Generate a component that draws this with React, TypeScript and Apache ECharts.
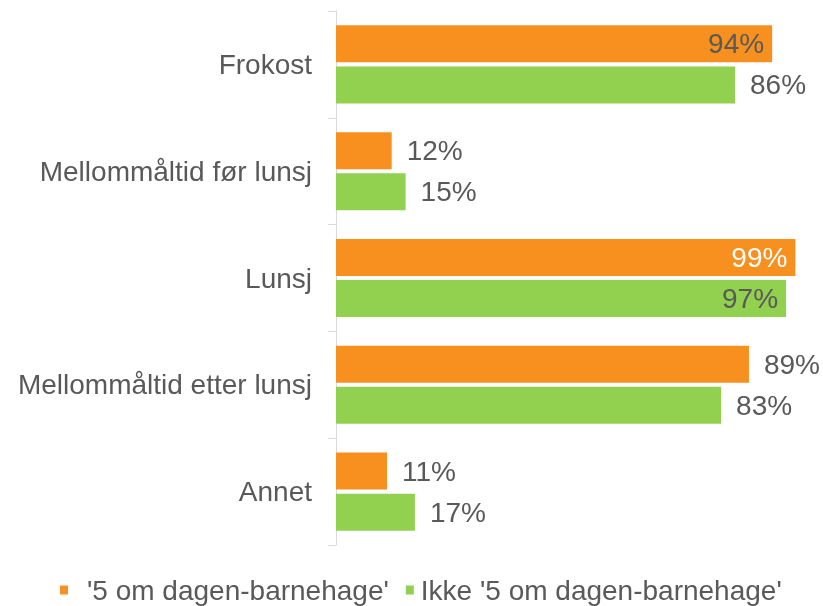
import React, { useEffect, useRef } from "react";
import * as echarts from "echarts";

const categories = ["Frokost", "Mellommåltid før lunsj", "Lunsj", "Mellommåltid etter lunsj", "Annet"];
const seriesNames = ["'5 om dagen-barnehage'", "Ikke '5 om dagen-barnehage'"];
const fiveADay = [94, 12, 99, 89, 11];
const notFiveADay = [86, 15, 97, 83, 17];
const insideOrange = [true, false, true, false, false];
const insideGreen = [false, false, true, false, false];
const insideColorOrange = ["#595959", "#595959", "#FFFFFF", "#595959", "#595959"];

const FONT = "'Liberation Sans', Arial, sans-serif";
const TEXT = "#595959";
const FS = 28;

function makeData(values: number[], inside: boolean[], colors?: string[]) {
  return values.map((v, i) => ({
    value: v,
    label: inside[i]
      ? { position: "insideRight", distance: 8, color: colors ? colors[i] : TEXT }
      : { position: "right", distance: 15, color: TEXT },
  }));
}

export default function App() {
  const ref = useRef<HTMLDivElement>(null);
  useEffect(() => {
    document.body.style.margin = "0";
    document.body.style.overflow = "hidden";
    if (!ref.current) return;
    const chart = echarts.init(ref.current, undefined, { renderer: "svg" });
    chart.setOption({
      animation: false,
      textStyle: { fontFamily: FONT },
      grid: { left: 336, right: 23, top: 11, bottom: 61, containLabel: false },
      legend: {
        left: 60,
        top: 576,
        padding: 0,
        itemWidth: 8,
        itemHeight: 9,
        itemGap: 17,
        icon: "rect",
        textStyle: { fontSize: FS, color: TEXT, fontFamily: FONT },
        data: [
          { name: seriesNames[0], textStyle: { padding: [0, 0, 0, 14] } },
          { name: seriesNames[1], textStyle: { padding: [0, 0, 0, 2] } },
        ],
      },
      xAxis: {
        type: "value",
        min: 0,
        max: 100,
        show: false,
      },
      yAxis: {
        type: "category",
        inverse: true,
        data: categories,
        axisLine: { show: true, lineStyle: { color: "#D9D9D9", width: 1 } },
        axisTick: { show: true, length: 8, lineStyle: { color: "#D9D9D9" } },
        axisLabel: { fontSize: FS, color: TEXT, margin: 24, fontFamily: FONT },
        splitLine: { show: false },
      },
      series: [
        {
          name: seriesNames[0],
          type: "bar",
          data: makeData(fiveADay, insideOrange, insideColorOrange),
          itemStyle: { color: "#F7901E" },
          barWidth: 37,
          barGap: "11%",
          label: { show: true, formatter: "{c}%", fontSize: FS, fontFamily: FONT },
        },
        {
          name: seriesNames[1],
          type: "bar",
          data: makeData(notFiveADay, insideGreen),
          itemStyle: { color: "#92D050" },
          barWidth: 37,
          barGap: "11%",
          label: { show: true, formatter: "{c}%", fontSize: FS, fontFamily: FONT },
        },
      ],
    });
    return () => chart.dispose();
  }, []);
  return <div ref={ref} style={{ position: "fixed", left: 0, top: 0, width: 823, height: 606 }} />;
}
